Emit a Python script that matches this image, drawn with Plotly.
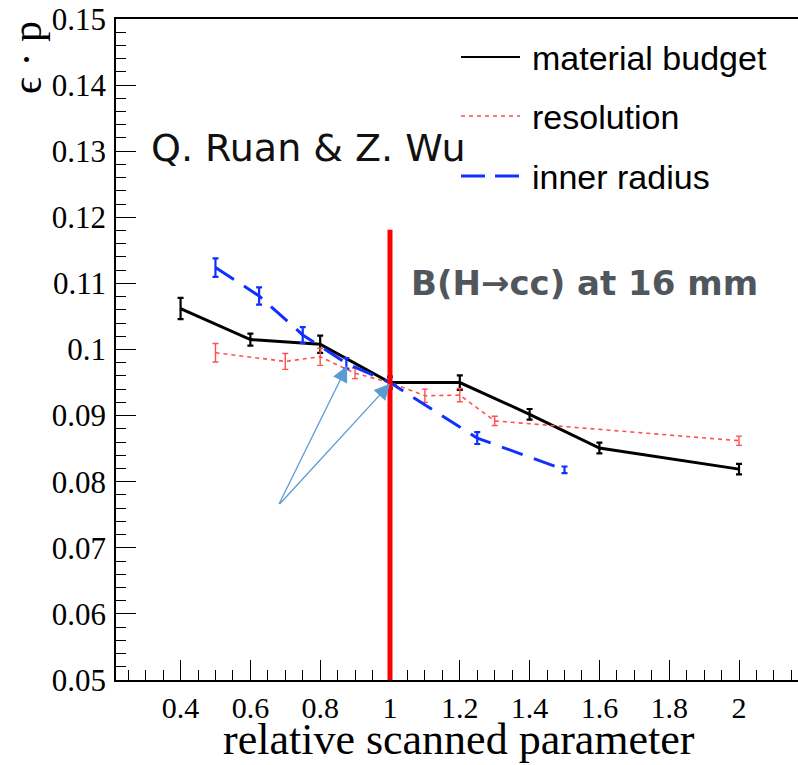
import plotly.graph_objects as go

# ---- data ----
mb_x = [0.4, 0.6, 0.8, 1.0, 1.2, 1.4, 1.6, 2.0]
mb_y = [0.1062, 0.1015, 0.1008, 0.0950, 0.0950, 0.0902, 0.0851, 0.0819]
mb_e = [0.0016, 0.0009, 0.0013, 0.0009, 0.0011, 0.0008, 0.0008, 0.0008]

res_x = [0.5, 0.7, 0.8, 0.9, 1.0, 1.1, 1.2, 1.3, 2.0]
res_y = [0.0995, 0.0982, 0.0989, 0.0964, 0.0950, 0.0930, 0.0931, 0.0892, 0.0862]
res_e = [0.0014, 0.0012, 0.0013, 0.0008, 0.0008, 0.0010, 0.0010, 0.0007, 0.0007]

ir_x = [0.5, 0.625, 0.75, 0.875, 1.0, 1.25, 1.5]
ir_y = [0.1124, 0.1081, 0.1022, 0.0979, 0.0950, 0.0866, 0.0818]
ir_e = [0.0014, 0.0013, 0.0012, 0.0008, 0.0008, 0.0009, 0.0005]

legend_names = ["material budget", "resolution", "inner radius"]
x_tickvals = [0.4, 0.6, 0.8, 1.0, 1.2, 1.4, 1.6, 1.8, 2.0]
x_ticktext = ["0.4", "0.6", "0.8", "1", "1.2", "1.4", "1.6", "1.8", "2"]
y_tickvals = [0.05, 0.06, 0.07, 0.08, 0.09, 0.10, 0.11, 0.12, 0.13, 0.14, 0.15]
y_ticktext = ["0.05", "0.06", "0.07", "0.08", "0.09", "0.1", "0.11", "0.12", "0.13", "0.14", "0.15"]
scan_point = 1.0
scan_top = 0.1181

BLACK = "#000000"
RED = "#ff5050"
BLUE = "#1030ff"

W, H = 798, 765
L, R, T, B = 116, 0, 19, 85
PW, PH = W - L - R, H - T - B


def px(xp):
    return (xp - L) / PW


def py(yp):
    return (H - B - yp) / PH


fig = go.Figure()
fig.add_trace(go.Scatter(x=mb_x, y=mb_y, mode="lines", name=legend_names[0],
                         line=dict(color=BLACK, width=3),
                         error_y=dict(type="data", array=mb_e, color=BLACK, thickness=2.2, width=3)))
fig.add_trace(go.Scatter(x=res_x, y=res_y, mode="lines", name=legend_names[1],
                         line=dict(color=RED, width=1.6, dash="4px,4px"),
                         error_y=dict(type="data", array=res_e, color=RED, thickness=1.4, width=3)))
fig.add_trace(go.Scatter(x=ir_x, y=ir_y, mode="lines", name=legend_names[2],
                         line=dict(color=BLUE, width=3, dash="22px,12px"),
                         error_y=dict(type="data", array=ir_e, color=BLUE, thickness=2.2, width=3)))

shapes = [
    dict(type="line", xref="x", yref="y", x0=scan_point, x1=scan_point, y0=0.05, y1=scan_top,
         line=dict(color="#ff0000", width=5)),
]
annotations = []
leg_y = [57, 116, 176]
leg_styles = [dict(color=BLACK, width=2.2), dict(color=RED, width=1.5, dash="4px,4px"),
              dict(color=BLUE, width=3, dash="24px,10px")]
for name, yy, st in zip(legend_names, leg_y, leg_styles):
    shapes.append(dict(type="line", xref="paper", yref="paper", x0=px(461), x1=px(520),
                       y0=py(yy), y1=py(yy), line=st))
    annotations.append(dict(text=name, xref="paper", yref="paper", x=px(530), y=py(yy + 1),
                            xanchor="left", yanchor="middle", showarrow=False,
                            font=dict(family="Liberation Sans", size=34, color="black")))

annotations.append(dict(text="Q. Ruan &amp; Z. Wu", xref="paper", yref="paper", x=px(149), y=py(148),
                        xanchor="left", yanchor="middle", showarrow=False,
                        font=dict(family="DejaVu Sans", size=38, color="#111111")))
annotations.append(dict(text="<b>B(H→cc) at 16 mm</b>", xref="paper", yref="paper", x=px(409), y=py(283),
                        xanchor="left", yanchor="middle", showarrow=False,
                        font=dict(family="DejaVu Sans", size=34, color="#50565c")))
# arrows
for tx, ty in [(0.877, 0.0975), (1.0, 0.0948)]:
    annotations.append(dict(x=tx, y=ty, xref="x", yref="y", ax=0.68, ay=0.0764, axref="x", ayref="y",
                            showarrow=True, arrowhead=2, arrowsize=2.4, arrowwidth=1.3,
                            arrowcolor="#5b9bd5", text=""))
# axis titles
annotations.append(dict(text="relative scanned parameter", xref="paper", yref="paper", x=px(459), y=py(739),
                        xanchor="center", yanchor="middle", showarrow=False,
                        font=dict(family="Liberation Serif", size=44, color="black")))
annotations.append(dict(text="ϵ · p", xref="paper", yref="paper", x=px(27), y=py(58),
                        xanchor="center", yanchor="middle", showarrow=False, textangle=-90,
                        font=dict(family="Liberation Serif", size=42, color="black")))

fig.update_layout(
    width=W, height=H, margin=dict(l=L, r=R, t=T, b=B),
    paper_bgcolor="white", plot_bgcolor="white", showlegend=False,
    shapes=shapes, annotations=annotations,
    xaxis=dict(range=[0.215, 2.169], showgrid=False, zeroline=False,
               showline=True, linecolor="black", linewidth=1.5, mirror=True,
               ticks="inside", ticklen=20, tickwidth=1.2, tickcolor="black",
               tickvals=x_tickvals, ticktext=x_ticktext, ticklabelstandoff=0,
               minor=dict(dtick=0.05, tick0=0, ticks="inside", ticklen=10, tickwidth=1.2, tickcolor="black"),
               tickfont=dict(family="Liberation Serif", size=30, color="black")),
    yaxis=dict(range=[0.05, 0.15], showgrid=False, zeroline=False,
               showline=True, linecolor="black", linewidth=1.5, mirror=False,
               ticks="inside", ticklen=20, tickwidth=1.2, tickcolor="black",
               tickvals=y_tickvals, ticktext=y_ticktext, ticklabelstandoff=2,
               minor=dict(dtick=0.002, tick0=0, ticks="inside", ticklen=10, tickwidth=1.2, tickcolor="black"),
               tickfont=dict(family="Liberation Serif", size=31, color="black")),
)

fig.write_html("out.html")
